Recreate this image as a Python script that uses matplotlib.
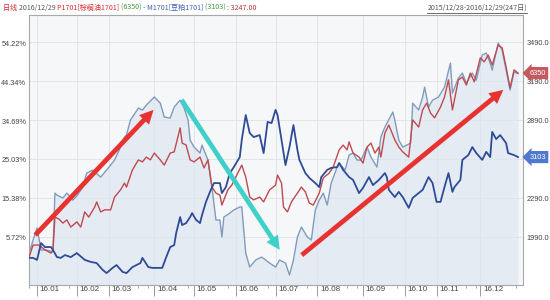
import matplotlib
matplotlib.use("Agg")
import matplotlib.pyplot as plt
from matplotlib.lines import Line2D
import matplotlib.transforms as mtrans
import numpy as np

# ---- data (trading-day index, value) ----
spread_days = [0,2,4,6,9,12,13,14,17,19,22,24,27,29,32,36,39,43,46,48,49,51,55,57,59,63,66,68,71,73,76,78,80,81,83,86,87,90,92,94,96,97,98,101,103,106,107,109,111,114,117,121,124,126,129,131,133,135,137,140,142,144,146,148,150,152,155,156,159,161,163,165,167,170,172,175,177,179,183,184,186,188,190,192,193,196,198,199,201,203,206,209,212,213,216,218,220,223,225,228,230,232,233,236,238,240,242,244,246]
spread_vals = [1867,1967,2059,1890,1890,1875,2328,2313,2290,2328,2274,2305,2374,2482,2505,2451,2505,2582,2682,2759,2774,2890,2982,2967,3005,3067,3020,2913,2905,2990,3043,2982,2890,2736,2682,2636,2697,2582,2374,2121,2121,1990,2144,2174,2198,2221,2221,1867,1759,1813,1836,1790,1759,1813,1790,1698,1813,1990,2067,1990,1967,2198,2274,2328,2236,2405,2528,2559,2505,2621,2636,2582,2582,2682,2605,2528,2759,2836,2951,2890,2736,2682,2697,2713,3020,2967,3067,3143,2990,3043,3067,3143,3328,3097,3213,3251,3174,3251,3197,3390,3405,3328,3274,3482,3428,3274,3120,3259,3247]

p_days = [0,2,5,8,11,12,13,15,17,19,21,24,26,28,30,33,34,36,38,41,43,46,48,49,52,55,57,59,61,63,66,68,71,73,76,77,79,81,83,86,88,90,92,94,96,97,100,102,105,107,109,111,113,116,118,121,124,125,127,128,130,132,135,137,139,141,143,146,148,151,153,156,158,160,161,163,166,168,170,172,174,176,177,179,181,184,186,188,191,193,196,198,200,202,204,207,209,211,213,216,218,220,222,224,227,229,231,233,236,238,240,242,244,246]
p_pct = [0.7,3.7,3.7,2.5,1.7,2.5,10.7,10.2,9.2,10.0,8.2,9.5,8.2,12.0,10.7,13.2,14.5,12.0,12.5,12.5,15.7,17.5,19.2,18.2,22.5,25.0,24.5,25.7,25.0,26.7,25.0,23.7,26.7,27.0,33.0,29.2,28.7,25.0,24.5,25.7,23.0,25.0,18.2,16.7,16.2,13.7,17.5,18.7,21.7,23.7,20.7,15.7,15.0,15.7,14.5,17.5,18.7,21.2,19.2,13.2,12.0,14.5,16.7,18.2,17.0,14.2,13.7,16.7,20.5,21.7,23.2,27.5,28.7,27.5,29.5,26.7,25.7,24.2,28.2,29.2,26.7,28.2,25.7,31.7,33.7,30.0,28.2,27.0,25.7,35.0,33.2,37.5,39.2,36.7,35.5,38.2,40.7,45.0,37.5,45.0,45.7,43.7,46.7,44.5,50.5,49.5,51.2,48.7,53.7,53.0,48.2,43.0,47.5,46.7]

m_days = [0,2,4,6,8,11,12,14,16,18,21,24,28,31,34,37,39,42,44,47,49,52,56,57,60,62,65,67,69,71,73,74,76,77,79,81,82,84,86,87,89,91,93,96,97,99,101,103,106,107,109,111,113,116,118,120,122,124,125,127,129,131,133,135,136,139,141,144,146,147,150,152,155,156,158,161,163,166,168,171,173,176,179,180,181,184,186,188,191,193,196,198,201,203,205,207,209,211,213,214,217,218,221,223,225,228,230,232,233,235,237,240,241,244,246]
m_pct = [0.5,0.5,0.0,4.2,3.2,3.2,2.5,0.7,0.5,1.2,0.7,1.7,0.0,-0.5,-0.8,-2.5,-3.3,-2.0,-1.3,-3.0,-3.3,-1.8,-0.8,0.5,-1.8,-2.0,-2.0,-2.0,0.7,3.2,3.7,6.7,10.7,8.7,9.2,10.7,11.7,10.0,9.2,11.2,14.5,17.0,19.2,19.2,16.7,18.2,21.7,23.2,25.7,30.0,36.2,31.7,30.7,31.2,26.7,34.5,34.2,37.5,36.2,30.0,23.7,28.2,33.7,27.5,25.0,21.7,20.5,19.2,18.2,20.7,22.5,23.0,23.2,24.2,22.5,20.7,20.0,16.7,18.0,20.7,18.7,20.0,21.7,20.7,17.5,15.7,17.0,15.7,13.0,15.5,16.7,17.5,20.7,19.2,14.5,14.5,18.2,21.7,17.0,18.2,20.0,25.0,26.2,28.2,26.7,25.0,27.0,25.7,32.0,30.2,31.2,29.2,26.7,26.2,25.7]

month_days = [4,24,40,63,83,104,124,145,168,189,205,227]
month_labels = ["16.01","16.02","16.03","16.04","16.05","16.06","16.07","16.08","16.09","16.10","16.11","16.12"]
pct_ticks = [5.72,15.38,25.03,34.69,44.34,54.22]
price_ticks = [1990,2290,2590,2890,3190,3490]
p_last, m_last = "6350", "3103"

plt.rcParams['font.family'] = ['Liberation Sans', 'DejaVu Sans']
TFS = 5.3

fig = plt.figure(figsize=(5.5, 3.0), dpi=100, facecolor='white')
ax = fig.add_axes([29/550, 15/300, (523-29)/550, 270/300])
ax2 = ax.twinx()
ax.set_facecolor('#f6f7f9')
ax.set_xlim(-0.05, 248.5)
ax.set_ylim(1621, 3698)

# spread (right scale)
ax.fill_between(spread_days, spread_vals, 1621, color='#dfe6f1', alpha=0.7, lw=0, zorder=1)
ax.plot(spread_days, spread_vals, color='#7f9cbc', lw=1.0, zorder=2)
ax.yaxis.tick_right()
ax.set_yticks(price_ticks)
# the 2590.0 label is hidden behind the 3103 value tag in the original
ax.set_yticklabels(["" if v == 2590 else f"{v:.1f}" for v in price_ticks], fontsize=TFS, color='#444')
ax.tick_params(axis='y', length=0, pad=2.5)
ax.grid(axis='both', color='#e2e4e8', lw=0.7, zorder=0)
ax.set_axisbelow(True)

ax.set_xticks(month_days)
ax.set_xticklabels(month_labels, fontsize=5.8, color='#444', ha='left')
ax.tick_params(axis='x', which='major', length=8, width=0.7, pad=-7.5, color='#999', direction='out')
off = mtrans.ScaledTranslation(2/72, 0, fig.dpi_scale_trans)
for lab in ax.get_xticklabels():
    lab.set_transform(lab.get_transform() + off)
minor = [d for d in range(0, 247, 5) if not any(m <= d <= m + 13 for m in month_days)]
ax.set_xticks(minor, minor=True)
ax.tick_params(axis='x', which='minor', length=2.5, width=0.6, color='#999')

for s in ax.spines.values():
    s.set_color('#a8a8a8')
    s.set_linewidth(0.8)

# percent (left scale)
ax2.set_ylim(-6.28, 61.22)
ax2.yaxis.tick_left()
ax2.set_yticks(pct_ticks)
ax2.set_yticklabels([f"{v:.2f}%" for v in pct_ticks], fontsize=TFS, color='#444')
ax2.tick_params(axis='y', length=0, pad=2)
for s in ax2.spines.values():
    s.set_visible(False)
ax2.plot(p_days, p_pct, color='#bf4a50', lw=1.0, zorder=3)
ax2.plot(m_days, m_pct, color='#2e4c96', lw=1.3, zorder=3)

# annotation arrows
def arrow(x0, y0, x1, y1, c):
    ax2.annotate('', xy=(x1, y1), xytext=(x0, y0),
                 arrowprops=dict(arrowstyle='simple,head_length=1.1,head_width=1.1,tail_width=0.38',
                                 color=c, lw=0, shrinkA=0, shrinkB=0, mutation_scale=9),
                 zorder=6)
arrow(3.1, 6.2, 62.6, 37.5, '#e8322f')
arrow(76.7, 40.0, 126.1, 2.5, '#3fd1c9')
arrow(137.2, 1.2, 238.6, 42.5, '#e8322f')

# value tags on right
for val, y, fc in [(p_last, p_pct[-1], '#c45a60'), (m_last, m_pct[-1], '#4f79cf')]:
    ax2.annotate(val, xy=(1.0, y), xycoords=('axes fraction', 'data'),
                 xytext=(4.5, 0), textcoords='offset points', fontsize=TFS,
                 color='white', va='center', ha='left', annotation_clip=False,
                 bbox=dict(boxstyle='larrow,pad=0.35', fc=fc, ec='none'), zorder=7)

# title
fs = 5.1
fam = ['Noto Sans CJK SC', 'DejaVu Sans']
parts = [("日线 ", '#d9262c'), ("2016/12/29 ", '#555555'), ("P1701[棕榈油1701] ", '#d9262c'),
         ("(6350) ", '#3a9a3a'), ("- ", '#555555'), ("M1701[豆粕1701] ", '#3b5fb5'),
         ("(3103) ", '#3a9a3a'), (": 3247.00", '#c0302c')]
fig.canvas.draw()
r = fig.canvas.get_renderer()
x = 3
for txt, c in parts:
    t = fig.text(x/550, 1 - 8/300, txt, fontsize=fs, color=c, family=fam, va='center', ha='left')
    bb = t.get_window_extent(renderer=r)
    x += bb.width
t = fig.text(527/550, 1 - 8/300, "2015/12/28-2016/12/29(247日)", fontsize=fs, color='#555555',
             family=fam, va='center', ha='right')
bb = t.get_window_extent(renderer=r)
fig.add_artist(Line2D([bb.x0/550, bb.x1/550], [(bb.y0 - 0.5)/300]*2, color='#555555', lw=0.6))

fig.savefig("out.png", dpi=100, facecolor='white')
